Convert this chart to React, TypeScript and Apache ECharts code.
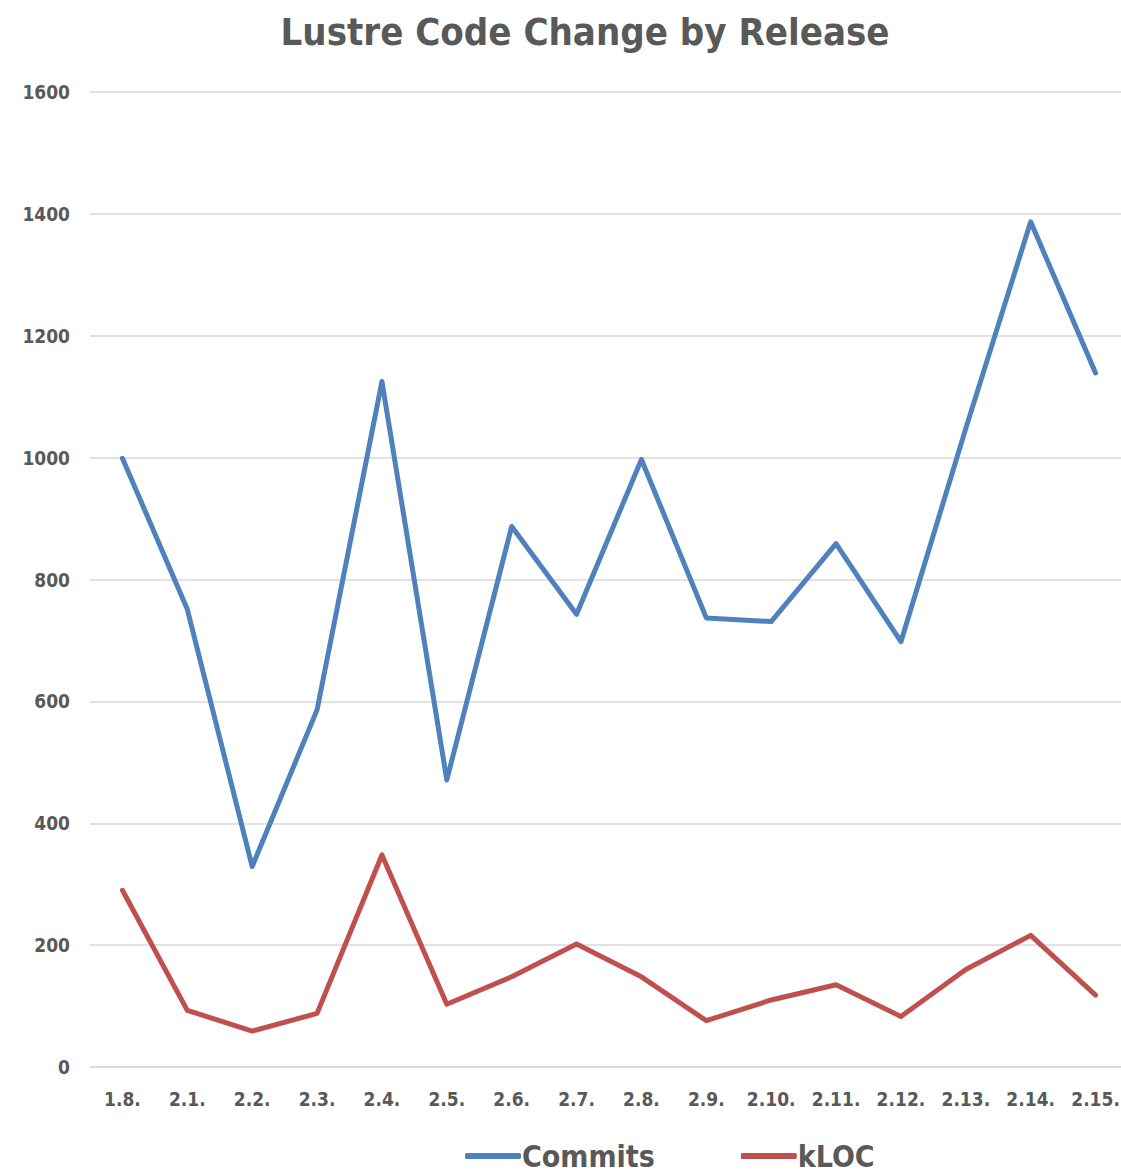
import React, { useEffect, useRef } from "react";
import * as echarts from "echarts";

const categories = ["1.8.", "2.1.", "2.2.", "2.3.", "2.4.", "2.5.", "2.6.", "2.7.", "2.8.", "2.9.", "2.10.", "2.11.", "2.12.", "2.13.", "2.14.", "2.15."];
const commits = [999, 751, 329, 586, 1125, 471, 887, 743, 997, 737, 731, 859, 698, 1048, 1387, 1139];
const kloc = [290, 93, 59, 88, 348, 103, 148, 202, 148, 76, 110, 135, 83, 160, 216, 118];

const FONT = "'Liberation Sans Narrow', 'DejaVu Sans Condensed', 'Liberation Sans', sans-serif";
const GREY = "#595959";

export default function App() {
  const ref = useRef<HTMLDivElement>(null);
  useEffect(() => {
    if (!ref.current) return;
    const chart = echarts.init(ref.current, null, { renderer: "svg" });
    chart.setOption({
      animation: false,
      backgroundColor: "#ffffff",
      title: {
        text: "Lustre Code Change by Release",
        left: 580,
        textAlign: "center",
        top: 8,
        textStyle: { fontFamily: FONT, fontSize: 38, fontWeight: "bold", color: GREY },
      },
      legend: {
        left: 460,
        top: 1135,
        itemWidth: 56,
        itemHeight: 6,
        itemGap: 86,
        icon: "roundRect",
        textStyle: {
          fontFamily: FONT,
          fontSize: 30,
          fontWeight: "bold",
          lineHeight: 32,
          color: GREY,
          padding: [0, 0, 0, -4],
        },
        data: ["Commits", "kLOC"],
      },
      grid: { left: 90, top: 92, width: 1038, bottom: 106 },
      xAxis: {
        type: "category",
        data: categories,
        boundaryGap: true,
        axisLine: { lineStyle: { color: "#d9d9d9", width: 1.5 } },
        axisTick: { show: false },
        axisLabel: { fontFamily: FONT, fontSize: 19, fontWeight: "bold", color: GREY, margin: 22 },
      },
      yAxis: {
        type: "value",
        min: 0,
        max: 1600,
        interval: 200,
        axisLine: { show: false },
        axisTick: { show: false },
        splitLine: { lineStyle: { color: "#d9d9d9", width: 1.5 } },
        axisLabel: {
          fontFamily: FONT,
          fontSize: 19,
          fontWeight: "bold",
          color: GREY,
          margin: 20,
          formatter: (v: number) => String(v),
        },
      },
      series: [
        {
          name: "Commits",
          type: "line",
          data: commits,
          symbol: "none",
          lineStyle: { color: "#4F81BD", width: 5, cap: "round", join: "round" },
          itemStyle: { color: "#4F81BD" },
        },
        {
          name: "kLOC",
          type: "line",
          data: kloc,
          symbol: "none",
          lineStyle: { color: "#C0504D", width: 5, cap: "round", join: "round" },
          itemStyle: { color: "#C0504D" },
        },
      ],
    });
    return () => chart.dispose();
  }, []);
  return (
    <div style={{ position: "absolute", left: 0, top: 0, width: 1121, height: 1173, overflow: "hidden" }}>
      <div ref={ref} style={{ width: 1130, height: 1173 }} />
    </div>
  );
}
